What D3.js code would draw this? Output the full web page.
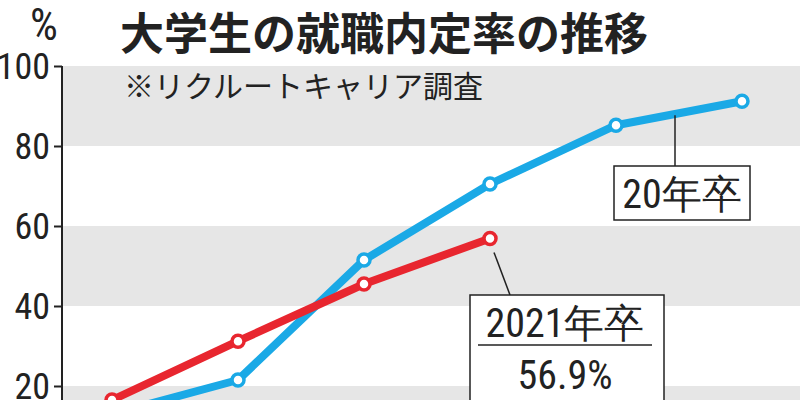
<!DOCTYPE html><html><head><meta charset="utf-8">
<script src="https://cdn.jsdelivr.net/npm/d3@7"></script>
<style>body{margin:0;background:#fff}</style></head><body>
<svg id="c" width="800" height="400"></svg>
<script>
const categories=["2月1日","3月1日","4月1日","5月1日","6月1日","7月1日"];
const series20=[13.0,21.5,51.5,70.5,85.2,91.2];
const series21=[16.5,31.2,45.5,56.9];
const yTicks=[0,20,40,60,80,100];
const svg=d3.select("#c");
const cond="'Liberation Sans Narrow','Roboto Condensed','DejaVu Sans Condensed',sans-serif";
const x=d3.scalePoint().domain(categories).range([112,742]);
const y=d3.scaleLinear().domain([0,100]).range([466,66]);
const X0=62;
[[80,100],[40,60],[0,20]].forEach(b=>svg.append("rect").attr("x",X0).attr("width",800-X0)
 .attr("y",y(b[1])).attr("height",y(b[0])-y(b[1])).attr("fill","#e6e6e6"));
const ax=svg.append("g").attr("transform",`translate(${X0},0)`).call(d3.axisLeft(y).tickValues(yTicks).tickSize(8).tickPadding(4));
ax.select(".domain").attr("stroke","#222").attr("stroke-width",2).attr("d",`M0,${y(100)}V466`);
ax.selectAll("line").attr("stroke","#222").attr("stroke-width",2);
ax.selectAll("text").attr("font-family",cond).attr("font-size",36).attr("fill","#222").attr("dy","0.36em");
svg.append("text").attr("x",30).attr("y",40).text("%").attr("font-family",cond).attr("font-size",44).attr("fill","#222");
svg.append("text").attr("x",120).attr("y",50).text("大学生の就職内定率の推移").attr("font-family","'Noto Sans CJK JP'").attr("font-weight","bold").attr("font-size",44).attr("fill","#222");
svg.append("text").attr("x",124).attr("y",97).text("※リクルートキャリア調査").attr("font-family","'Noto Sans CJK JP'").attr("font-size",30).attr("fill","#222");
const line=d3.line().x((d,i)=>x(categories[i])).y(d=>y(d));
function draw(data,col){
 svg.append("path").datum(data).attr("d",line).attr("fill","none").attr("stroke",col).attr("stroke-width",8).attr("stroke-linejoin","round");
 svg.selectAll(null).data(data).enter().append("circle").attr("cx",(d,i)=>x(categories[i])).attr("cy",d=>y(d)).attr("r",6).attr("fill","#fff").attr("stroke",col).attr("stroke-width",3.5);
}
draw(series20,"#1aa9e6");
draw(series21,"#e8262f");
const ln=(a,b,c,d)=>svg.append("line").attr("x1",a).attr("y1",b).attr("x2",c).attr("y2",d).attr("stroke","#222").attr("stroke-width",1.5);
ln(675,(y(85.2)+y(91.2))/2+2,675,166);
svg.append("rect").attr("x",614).attr("y",166).attr("width",136).attr("height",54).attr("fill","#fff").attr("stroke","#222").attr("stroke-width",1.5);
svg.append("text").attr("x",682).attr("y",208).attr("text-anchor","middle").text("20年卒").attr("font-family",cond).attr("font-size",40).attr("fill","#222");
ln(494,y(56.9)+14,510,295);
svg.append("rect").attr("x",470).attr("y",295).attr("width",194).attr("height",120).attr("fill","#fff").attr("stroke","#222").attr("stroke-width",1.5);
svg.append("text").attr("x",565).attr("y",337).attr("text-anchor","middle").text("2021年卒").attr("font-family",cond).attr("font-size",40).attr("fill","#222");
ln(478,345,652,345);
svg.append("text").attr("x",565).attr("y",389).attr("text-anchor","middle").text("56.9%").attr("font-family",cond).attr("font-size",40).attr("fill","#222");
</script></body></html>
